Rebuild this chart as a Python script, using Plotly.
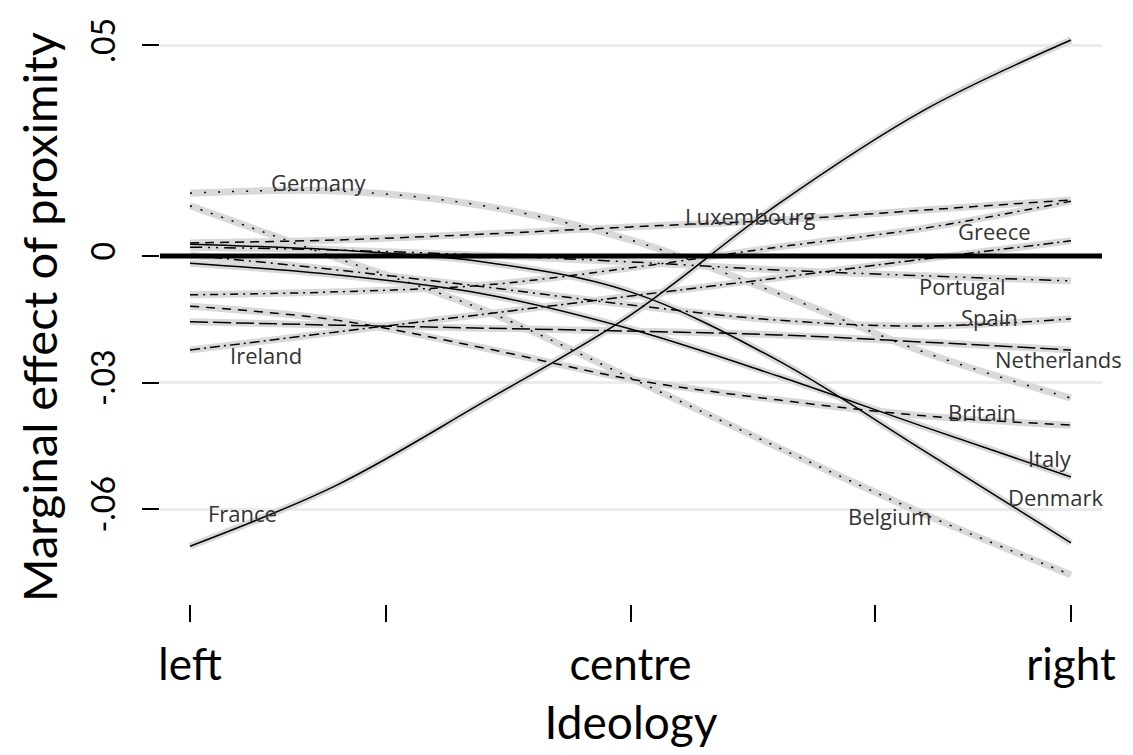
import plotly.graph_objects as go

# Ideology positions (1 = left, 10 = right) at which each country's curve is read
IDEOLOGY = [1, 2.5, 4, 5.5, 7, 8.5, 10]

FRANCE = [-0.0688, -0.0543, -0.0346, -0.0140, 0.0122, 0.0346, 0.0512]
GERMANY = [0.0149, 0.0154, 0.0119, 0.0038, -0.0088, -0.0228, -0.0337]
BELGIUM = [0.0119, -0.0005, -0.0128, -0.0289, -0.0453, -0.0612, -0.0756]
LUXEMBOURG = [0.0031, 0.0038, 0.0052, 0.0069, 0.0085, 0.0109, 0.0133]
GREECE = [-0.0092, -0.0085, -0.0069, -0.0028, 0.0021, 0.0066, 0.0130]
IRELAND = [-0.0223, -0.0180, -0.0138, -0.0095, -0.0052, -0.0007, 0.0036]
PORTUGAL = [0.0021, 0.0014, 0.0002, -0.0014, -0.0033, -0.0047, -0.0059]
SPAIN = [0.0002, -0.0033, -0.0073, -0.0116, -0.0152, -0.0166, -0.0149]
ITALY = [-0.0017, -0.0045, -0.0090, -0.0173, -0.0284, -0.0405, -0.0524]
DENMARK = [0.0028, 0.0014, -0.0014, -0.0085, -0.0247, -0.0462, -0.0680]
BRITAIN = [-0.0119, -0.0152, -0.0218, -0.0292, -0.0341, -0.0379, -0.0401]
NETHERLANDS = [-0.0156, -0.0164, -0.0171, -0.0178, -0.0187, -0.0204, -0.0223]

COUNTRIES = ["France", "Germany", "Belgium", "Luxembourg", "Greece", "Ireland",
             "Portugal", "Spain", "Italy", "Denmark", "Britain", "Netherlands"]
SERIES = [FRANCE, GERMANY, BELGIUM, LUXEMBOURG, GREECE, IRELAND,
          PORTUGAL, SPAIN, ITALY, DENMARK, BRITAIN, NETHERLANDS]

# Where each country's name is written (ideology, marginal effect)
LABEL_X = [1.54, 2.31, 8.15, 6.72, 9.22, 1.78, 8.89, 9.17, 9.79, 9.84, 9.09, 9.87]
LABEL_Y = [-0.0609, 0.0175, -0.0616, 0.0095, 0.0059, -0.0235, -0.0071, -0.0145,
           -0.0479, -0.0571, -0.0370, -0.0244]

Y_TICKS = [0.05, 0, -0.03, -0.06]
Y_TICK_TEXT = [".05", "0", "-.03", "-.06"]
X_TICKS = [1, 3, 5.5, 8, 10]
X_TICK_TEXT = ["left", "", "centre", "", "right"]

DASHES = {
    "France": "solid",
    "Germany": "2px,12px",
    "Belgium": "2px,9px",
    "Luxembourg": "9px,6px",
    "Greece": "8px,5px,2px,5px",
    "Ireland": "10px,4px,2px,4px",
    "Portugal": "12px,6px,2px,6px,2px,6px",
    "Spain": "10px,5px,2px,5px",
    "Italy": "solid",
    "Denmark": "solid",
    "Britain": "9px,7px",
    "Netherlands": "18px,5px",
}

FONT = "Lato, 'Open Sans', sans-serif"
LABEL_FONT = "'Open Sans', sans-serif"

fig = go.Figure()

# grey halo under every curve
for name, vals in zip(COUNTRIES, SERIES):
    fig.add_trace(go.Scatter(
        x=IDEOLOGY, y=vals, mode="lines", line_shape="spline",
        line=dict(color="#d9d9d9", width=7), hoverinfo="skip", showlegend=False))

# black patterned curve on top
for name, vals in zip(COUNTRIES, SERIES):
    fig.add_trace(go.Scatter(
        x=IDEOLOGY, y=vals, mode="lines", line_shape="spline", name=name,
        line=dict(color="black", width=1.5, dash=DASHES[name]), showlegend=False))

# reference line at zero
fig.add_shape(type="line", xref="paper", x0=0, x1=1, yref="y", y0=0, y1=0,
              line=dict(color="black", width=5), layer="above")

for name, lx, ly in zip(COUNTRIES, LABEL_X, LABEL_Y):
    fig.add_annotation(x=lx, y=ly, text=name, showarrow=False,
                       font=dict(family=LABEL_FONT, size=22, color="#333333"))

fig.update_layout(
    width=1133, height=755,
    margin=dict(l=160, r=31, t=30, b=151, autoexpand=False),
    paper_bgcolor="white", plot_bgcolor="white",
    font=dict(family=FONT, color="black"),
    xaxis=dict(
        range=[0.6935, 10.3167], tickmode="array", tickvals=X_TICKS, ticktext=X_TICK_TEXT,
        ticks="outside", ticklen=17, tickwidth=1.5, tickcolor="black",
        showgrid=False, zeroline=False, showline=False,
        tickfont=dict(size=44), ticklabelstandoff=5,
        title=dict(text="Ideology", font=dict(size=46), standoff=19),
    ),
    yaxis=dict(
        range=[-0.0825, 0.05358], tickmode="array", tickvals=Y_TICKS, ticktext=Y_TICK_TEXT,
        ticks="outside", ticklen=17, tickwidth=1.5, tickcolor="black",
        showgrid=True, gridcolor="#e8eef0", gridwidth=3,
        zeroline=False, showline=False, tickangle=-90,
        tickfont=dict(size=32), ticklabelstandoff=14,
        title=dict(text="Marginal effect of proximity", font=dict(size=47), standoff=10),
    ),
)

fig.write_html("out.html")
